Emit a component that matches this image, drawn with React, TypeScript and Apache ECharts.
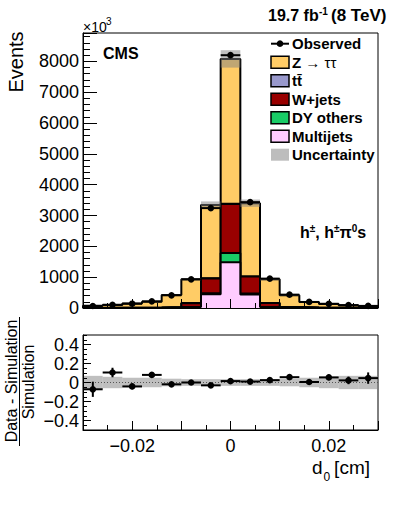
import React, { useEffect, useRef } from 'react';
import * as echarts from 'echarts';

// ---- data ----
const binCenters = [-0.028, -0.024, -0.02, -0.016, -0.012, -0.008, -0.004, 0, 0.004, 0.008, 0.012, 0.016, 0.02, 0.024, 0.028];
const binWidth = 0.004;
const multijets = [1, 1, 1, 2, 5, 30, 450, 1480, 440, 30, 5, 2, 1, 1, 1];
const dyOthers = [0, 0, 1, 1, 2, 5, 30, 300, 30, 5, 2, 1, 1, 0, 0];
const wJets = [3, 4, 6, 10, 25, 120, 480, 1590, 550, 125, 25, 10, 6, 4, 3];
const ttbar = [2, 2, 2, 2, 3, 5, 5, 10, 5, 5, 3, 2, 2, 2, 2];
const zTauTau = [64, 88, 135, 185, 385, 770, 2375, 4700, 2375, 765, 375, 180, 120, 83, 59];
const observed = [65, 105, 139, 216, 412, 930, 3240, 8200, 3434, 953, 433, 196, 137, 92, 68];
const observedRelErr = [0.08, 0.05, 0.03, 0.02, 0.012, 0.008, 0.005, 0.003, 0.005, 0.008, 0.012, 0.02, 0.03, 0.04, 0.06];
const simRelUnc = [0.07, 0.06, 0.05, 0.05, 0.04, 0.035, 0.035, 0.035, 0.035, 0.035, 0.04, 0.05, 0.06, 0.07, 0.07];

const legendLabels = ['Observed', 'Z', 'tt\u0304', 'W+jets', 'DY others', 'Multijets', 'Uncertainty'];
const colors = {
  z: '#ffcc66',
  tt: '#9999cc',
  w: '#990000',
  dy: '#19cc66',
  mj: '#ffccff',
  unc: 'rgba(128,128,128,0.5)',
  uncLegend: '#bdbdbd',
};

const FONT = '"Liberation Sans", Arial, Helvetica, sans-serif';

const edges = binCenters.map((c) => c - binWidth / 2).concat([binCenters[binCenters.length - 1] + binWidth / 2]);

function addArrays(...arrs: number[][]): number[] {
  return arrs[0].map((_, i) => arrs.reduce((s, a) => s + a[i], 0));
}

function stepData(vals: number[]): number[][] {
  const pts: number[][] = [[edges[0], 0]];
  vals.forEach((v, i) => pts.push([edges[i], v]));
  pts.push([edges[vals.length], vals[vals.length - 1]]);
  pts.push([edges[vals.length], 0]);
  return pts;
}

const cumMJ = multijets;
const cumDY = addArrays(multijets, dyOthers);
const cumW = addArrays(multijets, dyOthers, wJets);
const cumTT = addArrays(multijets, dyOthers, wJets, ttbar);
const total = addArrays(multijets, dyOthers, wJets, ttbar, zTauTau);

export default function App() {
  const ref = useRef<HTMLDivElement>(null);
  useEffect(() => {
    if (!ref.current) return;
    const chart = echarts.init(ref.current, undefined, { renderer: 'svg' });

    const histSeries = (name: string, vals: number[], color: string, z: number) => ({
      name,
      type: 'line',
      xAxisIndex: 0,
      yAxisIndex: 0,
      step: 'end',
      symbol: 'none',
      silent: true,
      z,
      data: stepData(vals),
      lineStyle: { color: '#000', width: 2 },
      areaStyle: { color, opacity: 1 },
    });

    const bandItem = (params: any, api: any) => {
      const x = api.value(0);
      const lo = api.value(1);
      const hi = api.value(2);
      const p0 = api.coord([x - binWidth / 2, hi]);
      const p1 = api.coord([x + binWidth / 2, lo]);
      return {
        type: 'rect',
        shape: { x: p0[0], y: p0[1], width: p1[0] - p0[0], height: p1[1] - p0[1] },
        style: { fill: colors.unc },
      };
    };

    const pointItem = (params: any, api: any) => {
      const x = api.value(0);
      const y = api.value(1);
      const e = api.value(2);
      const c = api.coord([x, y]);
      const l = api.coord([x - binWidth / 2, y]);
      const r = api.coord([x + binWidth / 2, y]);
      const t = api.coord([x, y + e]);
      const b = api.coord([x, y - e]);
      return {
        type: 'group',
        children: [
          { type: 'line', shape: { x1: l[0], y1: l[1], x2: r[0], y2: r[1] }, style: { stroke: '#000', lineWidth: 2 } },
          { type: 'line', shape: { x1: t[0], y1: t[1], x2: b[0], y2: b[1] }, style: { stroke: '#000', lineWidth: 2 } },
          { type: 'circle', shape: { cx: c[0], cy: c[1], r: 3.3 }, style: { fill: '#000' } },
        ],
      };
    };

    const ratio = observed.map((o, i) => o / total[i] - 1);

    const xLabelFmt = (v: number) => {
      const r = Math.round(v * 1000);
      if (r % 20 !== 0) return '';
      if (r === 0) return '0';
      return (r < 0 ? '\u2212' : '') + (Math.abs(r) / 1000).toFixed(2);
    };

    const baseX = {
      type: 'value',
      min: -0.03,
      max: 0.03,
      position: 'bottom',
      splitLine: { show: false },
      z: 20,
    };

    const legendRowY = (i: number) => 43.7 + i * 18.5;
    const legendGraphics: any[] = [];
    legendLabels.forEach((lab, i) => {
      const y = legendRowY(i);
      if (i === 0) {
        legendGraphics.push({ type: 'line', shape: { x1: 271, y1: y, x2: 289, y2: y }, style: { stroke: '#000', lineWidth: 2 } });
        legendGraphics.push({ type: 'circle', shape: { cx: 280, cy: y, r: 3.3 }, style: { fill: '#000' } });
      } else {
        const fill = [null, colors.z, colors.tt, colors.w, colors.dy, colors.mj, colors.uncLegend][i];
        legendGraphics.push({
          type: 'rect',
          shape: { x: 271, y: y - 6, width: 18, height: 12 },
          style: i === 6 ? { fill } : { fill, stroke: '#000', lineWidth: 1.5 },
        });
      }
      if (i === 1) {
        legendGraphics.push({
          type: 'text',
          x: 292,
          y,
          style: {
            text: '{b|Z}{n| \u2192 \u03c4\u03c4}',
            verticalAlign: 'middle',
            align: 'left',
            rich: {
              b: { fontFamily: FONT, fontWeight: 'bold', fontSize: 15, fill: '#000' },
              n: { fontFamily: FONT, fontSize: 15, fill: '#000' },
            },
          },
        });
      } else {
        legendGraphics.push({
          type: 'text',
          x: 292,
          y,
          style: { text: lab, fontFamily: FONT, fontWeight: 'bold', fontSize: 15, fill: '#000', align: 'left', verticalAlign: 'middle' },
        });
      }
    });

    const option: any = {
      animation: false,
      grid: [
        { left: 83, top: 33, width: 295, height: 275, show: true, borderColor: '#000', borderWidth: 1, backgroundColor: 'transparent' },
        { left: 83, top: 335, width: 295, height: 95, show: true, borderColor: '#000', borderWidth: 1, backgroundColor: 'transparent' },
      ],
      xAxis: [
        {
          ...baseX,
          gridIndex: 0,
          interval: 0.005,
          axisLine: { onZero: false, lineStyle: { color: '#000', width: 1 } },
          axisTick: { inside: true, length: 5, lineStyle: { color: '#000' } },
          axisLabel: { show: false },
        },
        {
          ...baseX,
          gridIndex: 1,
          interval: 0.005,
          axisLine: { onZero: false, lineStyle: { color: '#000', width: 1 } },
          axisTick: { inside: true, length: 5, lineStyle: { color: '#000' } },
          axisLabel: { formatter: xLabelFmt, fontSize: 18, fontFamily: FONT, color: '#000', margin: 7 },
        },
        {
          ...baseX,
          gridIndex: 0,
          interval: 0.01,
          axisLine: { show: false, onZero: false },
          axisTick: { inside: true, length: 9, lineStyle: { color: '#000' } },
          axisLabel: { show: false },
        },
        {
          ...baseX,
          gridIndex: 1,
          interval: 0.01,
          axisLine: { show: false, onZero: false },
          axisTick: { inside: true, length: 9, lineStyle: { color: '#000' } },
          axisLabel: { show: false },
        },
      ],
      yAxis: [
        {
          type: 'value',
          gridIndex: 0,
          position: 'left',
          min: 0,
          max: 8920,
          interval: 200,
          splitLine: { show: false },
          z: 20,
          axisLine: { show: true, onZero: false, lineStyle: { color: '#000', width: 1 } },
          axisTick: { show: true, inside: true, length: 7, lineStyle: { color: '#000' } },
          axisLabel: {
            formatter: (v: number) => (Math.round(v) % 1000 === 0 ? String(Math.round(v)) : ''),
            fontSize: 18,
            fontFamily: FONT,
            color: '#000',
            margin: 4,
            showMaxLabel: false,
          },
        },
        {
          type: 'value',
          gridIndex: 1,
          position: 'left',
          min: -0.5,
          max: 0.5,
          interval: 0.05,
          splitLine: { show: false },
          z: 20,
          axisLine: { show: true, onZero: false, lineStyle: { color: '#000', width: 1 } },
          axisTick: { show: true, inside: true, length: 4, lineStyle: { color: '#000' } },
          axisLabel: {
            formatter: (v: number) => {
              const r = Math.round(v * 100);
              if (r % 20 !== 0) return '';
              if (r === 0) return '0';
              return (r < 0 ? '\u2212' : '') + String(Math.abs(r) / 100);
            },
            fontSize: 18,
            fontFamily: FONT,
            color: '#000',
            margin: 4,
          },
        },
        {
          type: 'value',
          gridIndex: 0,
          position: 'left',
          min: 0,
          max: 8920,
          interval: 1000,
          splitLine: { show: false },
          z: 20,
          axisLine: { show: false, onZero: false },
          axisTick: { show: true, inside: true, length: 14, lineStyle: { color: '#000' } },
          axisLabel: { show: false },
        },
        {
          type: 'value',
          gridIndex: 1,
          position: 'left',
          min: -0.5,
          max: 0.5,
          interval: 0.1,
          splitLine: { show: false },
          z: 20,
          axisLine: { show: false, onZero: false },
          axisTick: { show: true, inside: true, length: 8, customValues: [-0.4, -0.2, 0, 0.2, 0.4], lineStyle: { color: '#000' } },
          axisLabel: { show: false },
        },
      ],
      series: [
        histSeries('Z\u2192\u03c4\u03c4', total, colors.z, 2),
        histSeries('ttbar', cumTT, colors.tt, 3),
        histSeries('W+jets', cumW, colors.w, 4),
        histSeries('DY others', cumDY, colors.dy, 5),
        histSeries('Multijets', cumMJ, colors.mj, 6),
        {
          name: 'Uncertainty',
          type: 'custom',
          xAxisIndex: 0,
          yAxisIndex: 0,
          z: 7,
          silent: true,
          renderItem: bandItem,
          data: binCenters.map((c, i) => [c, total[i] * (1 - simRelUnc[i]), total[i] * (1 + simRelUnc[i])]),
        },
        {
          name: 'Observed',
          type: 'custom',
          xAxisIndex: 0,
          yAxisIndex: 0,
          z: 8,
          silent: true,
          renderItem: pointItem,
          data: binCenters.map((c, i) => [c, observed[i], observed[i] * observedRelErr[i]]),
        },
        {
          name: 'Ratio uncertainty',
          type: 'custom',
          xAxisIndex: 1,
          yAxisIndex: 1,
          z: 2,
          silent: true,
          renderItem: bandItem,
          data: binCenters.map((c, i) => [c, -simRelUnc[i], simRelUnc[i]]),
        },
        {
          name: 'Zero',
          type: 'line',
          xAxisIndex: 1,
          yAxisIndex: 1,
          z: 3,
          silent: true,
          symbol: 'none',
          data: [[-0.03, 0], [0.03, 0]],
          lineStyle: { color: '#555', width: 1, type: [1, 2] },
        },
        {
          name: 'Ratio',
          type: 'custom',
          xAxisIndex: 1,
          yAxisIndex: 1,
          z: 4,
          silent: true,
          renderItem: pointItem,
          data: binCenters.map((c, i) => [c, ratio[i], observedRelErr[i]]),
        },
      ],
      graphic: [
        // Y title top
        {
          type: 'text', x: 16, y: 62, rotation: Math.PI / 2,
          style: { text: 'Events', fontFamily: FONT, fontSize: 20, fill: '#000', align: 'center', verticalAlign: 'middle' },
        },
        // x10^3
        { type: 'text', x: 83, y: 27, style: { text: '\u00d710', fontFamily: FONT, fontSize: 14, fill: '#000', align: 'left', verticalAlign: 'middle' } },
        { type: 'text', x: 106, y: 21, style: { text: '3', fontFamily: FONT, fontSize: 10, fill: '#000', align: 'left', verticalAlign: 'middle' } },
        // lumi
        { type: 'text', x: 268, y: 15, style: { text: '19.7 fb', fontFamily: FONT, fontWeight: 'bold', fontSize: 16, fill: '#000', align: 'left', verticalAlign: 'middle' } },
        { type: 'text', x: 319, y: 11, style: { text: '-1', fontFamily: FONT, fontWeight: 'bold', fontSize: 10, fill: '#000', align: 'left', verticalAlign: 'middle' } },
        { type: 'text', x: 331, y: 15, style: { text: '(8 TeV)', fontFamily: FONT, fontWeight: 'bold', fontSize: 17, fill: '#000', align: 'left', verticalAlign: 'middle' } },
        // CMS
        { type: 'text', x: 103, y: 53, style: { text: 'CMS', fontFamily: FONT, fontWeight: 'bold', fontSize: 16, fill: '#000', align: 'left', verticalAlign: 'middle' } },
        // decay mode label
        {
          type: 'text', x: 300, y: 232,
          style: {
            text: '{b|h}{s|\u00b1}{b|, h}{s|\u00b1}{b|\u03c0}{s|0}{b|s}',
            align: 'left',
            verticalAlign: 'middle',
            rich: {
              b: { fontFamily: FONT, fontWeight: 'bold', fontSize: 16, lineHeight: 18, fill: '#000' },
              s: { fontFamily: FONT, fontWeight: 'bold', fontSize: 10, lineHeight: 10, verticalAlign: 'top', fill: '#000' },
            },
          },
        },
        ...legendGraphics,
        // ratio y title (fraction)
        {
          type: 'text', x: 11, y: 381, rotation: Math.PI / 2,
          style: { text: 'Data - Simulation', fontFamily: FONT, fontSize: 16, fill: '#000', align: 'center', verticalAlign: 'middle' },
        },
        { type: 'line', shape: { x1: 19.5, y1: 317, x2: 19.5, y2: 446 }, style: { stroke: '#000', lineWidth: 1 } },
        {
          type: 'text', x: 28.5, y: 382, rotation: Math.PI / 2,
          style: { text: 'Simulation', fontFamily: FONT, fontSize: 16, fill: '#000', align: 'center', verticalAlign: 'middle' },
        },
        // x title
        { type: 'text', x: 312, y: 467, style: { text: 'd', fontFamily: FONT, fontSize: 19, fill: '#000', align: 'left', verticalAlign: 'middle' } },
        { type: 'text', x: 323.5, y: 477, style: { text: '0', fontFamily: FONT, fontSize: 12, fill: '#000', align: 'left', verticalAlign: 'middle' } },
        { type: 'text', x: 370, y: 467, style: { text: '[cm]', fontFamily: FONT, fontSize: 19, fill: '#000', align: 'right', verticalAlign: 'middle' } },
      ],
    };

    chart.setOption(option);
    return () => chart.dispose();
  }, []);

  return <div ref={ref} style={{ position: 'absolute', left: 0, top: 0, width: 399, height: 505, background: '#fff' }} />;
}
